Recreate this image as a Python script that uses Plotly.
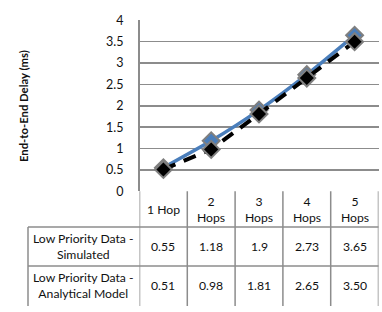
import plotly.graph_objects as go

categories = ["1 Hop", "2 Hops", "3 Hops", "4 Hops", "5 Hops"]
header_labels = ["1 Hop", "2<br>Hops", "3<br>Hops", "4<br>Hops", "5<br>Hops"]
simulated = [0.55, 1.18, 1.9, 2.73, 3.65]
analytical = [0.51, 0.98, 1.81, 2.65, 3.50]
analytical_text = ["0.51", "0.98", "1.81", "2.65", "3.50"]
simulated_text = ["0.55", "1.18", "1.9", "2.73", "3.65"]
series_names = ["Low Priority Data -<br>Simulated", "Low Priority Data -<br>Analytical Model"]
y_ticks = [0, 0.5, 1, 1.5, 2, 2.5, 3, 3.5, 4]
y_tick_text = ["0", "0.5", "1", "1.5", "2", "2.5", "3", "3.5", "4"]

W, H = 382, 312
FONT = "Lato"
GRID = "#8c8c8c"


def px(x):
    return x / W


def py(y):
    return 1 - y / H


xs = list(range(len(categories)))

fig = go.Figure()
fig.add_trace(go.Scatter(
    x=xs, y=simulated, mode="lines+markers", name="sim",
    line=dict(color="#4a7ebb", width=3.5, shape="spline", smoothing=0.5),
    marker=dict(symbol="diamond", size=13, color="#4a7ebb",
                line=dict(color="#7f7f7f", width=2)),
))
fig.add_trace(go.Scatter(
    x=xs, y=analytical, mode="lines+markers", name="ana",
    line=dict(color="black", width=4, dash="13px,9px"),
    marker=dict(symbol="diamond", size=13, color="black",
                line=dict(color="#7f7f7f", width=2)),
))

shapes = []
annotations = []

header_top, row1_top, row2_top, bottom = 192.5, 230, 271, 313
label_left = 28

for i in range(len(categories) + 1):
    shapes.append(dict(type="line", xref="x", yref="paper",
                       x0=i - 0.5, x1=i - 0.5, y0=py(header_top), y1=py(bottom),
                       line=dict(color=GRID, width=1.5)))
shapes.append(dict(type="line", xref="paper", yref="paper",
                   x0=px(label_left), x1=px(label_left), y0=py(row1_top), y1=py(bottom),
                   line=dict(color=GRID, width=1.5)))
for yy in [row1_top, row2_top]:
    shapes.append(dict(type="line", xref="paper", yref="paper",
                       x0=px(label_left), x1=px(378.5), y0=py(yy), y1=py(yy),
                       line=dict(color=GRID, width=1.5)))

tfont = dict(family=FONT, size=12.2, color="#111")


def ann(x, y, text, xref="x", **kw):
    d = dict(x=x, y=y, xref=xref, yref="paper", text=text, showarrow=False,
             font=tfont, align="center", xanchor="center", yanchor="middle")
    d.update(kw)
    annotations.append(d)


for i, lab in enumerate(header_labels):
    ann(i, py((header_top + row1_top) / 2), lab)
    ann(i, py((row1_top + row2_top) / 2), simulated_text[i])
    ann(i, py((row2_top + 312) / 2), analytical_text[i])
for k, name in enumerate(series_names):
    top = [row1_top, row2_top][k]
    bot = [row2_top, 312][k]
    ann(px((label_left + 139.5) / 2), py((top + bot) / 2), name, xref="paper")

ann(px(23), py(103), "<b>End-to-End Delay (ms)</b>", xref="paper", textangle=-90,
    font=dict(family=FONT, size=11.3, color="#111"))

fig.update_layout(
    width=W, height=H, margin=dict(l=0, r=0, t=0, b=0),
    paper_bgcolor="white", plot_bgcolor="white", showlegend=False,
    shapes=shapes, annotations=annotations,
    xaxis=dict(domain=[px(139.5), px(378.5)], range=[-0.5, 4.5],
               showticklabels=False, showgrid=False, zeroline=False, showline=False,
               ticks=""),
    yaxis=dict(domain=[py(192.5), py(13)], range=[0, 4],
               tickvals=y_ticks, ticktext=y_tick_text,
               showgrid=True, gridcolor=GRID, gridwidth=1.5,
               zeroline=False, showline=True, linecolor=GRID, linewidth=1.5,
               ticks="", ticklabelstandoff=12,
               tickfont=dict(family=FONT, size=12.5, color="#111")),
)

fig.write_html("out.html", config={"displayModeBar": False, "staticPlot": True},
               post_script="document.body.style.margin='0';document.body.style.overflow='hidden';")
